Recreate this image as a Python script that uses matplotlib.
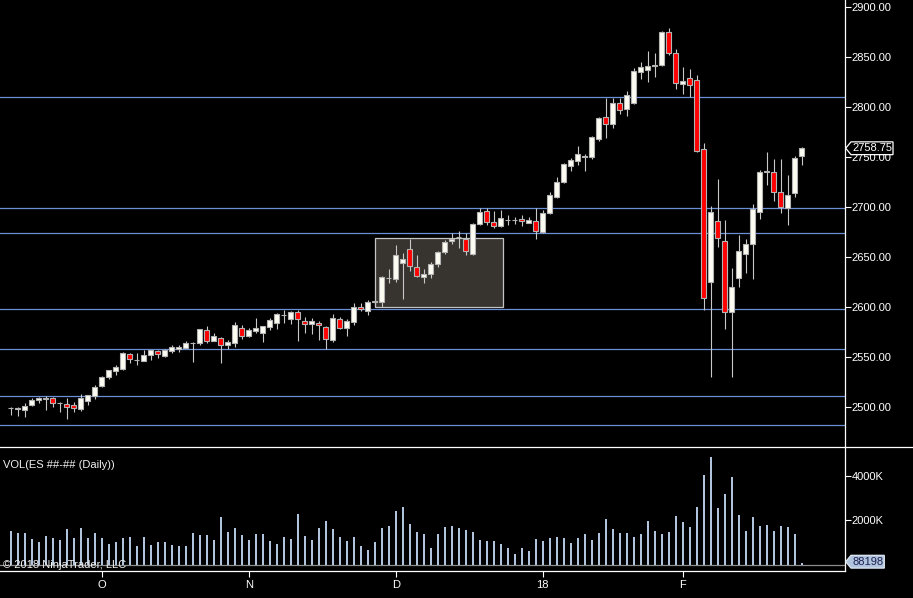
import numpy as np
import matplotlib
matplotlib.use("Agg")
import matplotlib.pyplot as plt
from matplotlib.patches import Rectangle, Polygon
from matplotlib.lines import Line2D

plt.rcParams['font.family'] = ['Liberation Sans', 'DejaVu Sans']

# daily ES bars
opens = [2499.25, 2498.5, 2497.25, 2502.25, 2506.75, 2508.5, 2508.75, 2504.25, 2502.75, 2502.0,
         2498.0, 2506.25, 2511.0, 2521.0, 2530.25, 2536.0, 2538.0, 2552.75, 2547.25, 2546.25,
         2552.25, 2555.75, 2551.25, 2555.75, 2558.25, 2559.25, 2564.0, 2564.25, 2576.75, 2565.75,
         2568.75, 2562.25, 2564.25, 2578.75, 2571.25, 2576.25, 2574.25, 2580.25, 2583.75, 2591.5,
         2587.75, 2594.75, 2585.75, 2583.25, 2583.75, 2580.25, 2567.25, 2587.75, 2579.25, 2585.25,
         2599.75, 2596.25, 2605.25, 2605.25, 2628.5, 2628.0, 2643.75, 2657.75, 2639.75, 2630.25,
         2633.25, 2642.75, 2655.25, 2666.25, 2669.5, 2668.25, 2653.25, 2683.0, 2695.75, 2685.25,
         2681.25, 2686.75, 2687.0, 2687.75, 2684.25, 2685.75, 2675.25, 2694.25, 2710.25, 2725.25,
         2741.25, 2746.25, 2750.25, 2750.25, 2768.25, 2789.75, 2782.75, 2803.75, 2797.75, 2804.25,
         2835.25, 2837.0, 2841.25, 2842.0, 2874.75, 2853.75, 2823.25, 2828.75, 2826.75, 2757.75,
         2624.75, 2685.75, 2665.75, 2594.75, 2628.75, 2653.0, 2662.75, 2695.25, 2735.25, 2734.75,
         2714.75, 2698.75, 2713.75, 2751.25]
highs = [2500.5, 2500.5, 2504.0, 2509.25, 2510.0, 2511.0, 2510.25, 2505.0, 2509.0, 2504.75,
         2512.75, 2511.75, 2521.75, 2531.25, 2536.75, 2542.0, 2554.75, 2554.0, 2554.0, 2557.25,
         2556.75, 2556.75, 2558.0, 2561.75, 2561.75, 2566.0, 2565.0, 2577.75, 2581.0, 2573.75,
         2570.25, 2567.0, 2584.75, 2582.25, 2578.75, 2589.25, 2581.25, 2589.25, 2594.25, 2597.0,
         2596.0, 2597.0, 2590.0, 2588.75, 2585.75, 2581.0, 2593.0, 2590.0, 2587.75, 2603.75,
         2603.75, 2607.0, 2607.0, 2631.0, 2638.0, 2662.0, 2653.75, 2668.0, 2652.0, 2637.75,
         2644.75, 2656.0, 2667.0, 2673.75, 2676.0, 2673.75, 2683.75, 2698.75, 2698.75, 2696.0,
         2697.0, 2692.0, 2690.25, 2692.0, 2690.25, 2698.75, 2697.0, 2714.75, 2729.75, 2743.75,
         2748.75, 2761.0, 2753.0, 2771.0, 2790.25, 2809.25, 2809.25, 2809.25, 2816.0, 2839.25,
         2845.0, 2856.0, 2854.25, 2876.0, 2878.75, 2857.75, 2840.0, 2838.0, 2832.0, 2763.75,
         2700.5, 2727.75, 2687.0, 2638.75, 2672.0, 2668.0, 2703.0, 2737.0, 2754.75, 2748.0,
         2748.0, 2732.0, 2751.0, 2759.75]
lows = [2492.0, 2491.5, 2490.25, 2501.0, 2504.25, 2497.25, 2500.25, 2495.25, 2488.25, 2495.25,
        2496.25, 2502.0, 2508.0, 2519.75, 2528.25, 2532.0, 2537.0, 2544.0, 2542.0, 2546.25,
        2547.25, 2549.25, 2550.25, 2554.25, 2555.0, 2559.25, 2545.0, 2562.0, 2564.25, 2565.75,
        2544.0, 2558.25, 2560.25, 2568.0, 2570.25, 2574.0, 2565.0, 2577.0, 2578.0, 2584.25,
        2583.0, 2566.0, 2573.75, 2573.0, 2567.0, 2558.0, 2565.0, 2578.25, 2571.25, 2582.0,
        2596.25, 2592.25, 2599.75, 2600.25, 2623.75, 2625.25, 2608.0, 2636.25, 2630.25, 2623.75,
        2629.25, 2640.25, 2652.75, 2663.0, 2659.25, 2652.0, 2652.0, 2682.0, 2682.0, 2679.25,
        2680.25, 2682.0, 2683.0, 2681.25, 2683.75, 2668.0, 2673.75, 2692.75, 2708.75, 2724.25,
        2736.25, 2742.0, 2736.25, 2747.75, 2766.25, 2769.25, 2779.25, 2793.0, 2791.0, 2802.75,
        2828.0, 2825.25, 2830.25, 2841.0, 2851.75, 2818.0, 2813.0, 2810.25, 2755.25, 2597.0,
        2529.75, 2660.25, 2577.75, 2530.25, 2620.25, 2634.25, 2627.75, 2688.0, 2722.0, 2706.0,
        2693.75, 2682.0, 2710.25, 2742.25]
closes = [2499.5, 2498.75, 2501.0, 2506.75, 2509.25, 2508.75, 2504.25, 2504.5, 2500.25, 2499.25,
          2508.75, 2511.75, 2520.0, 2530.0, 2536.75, 2539.75, 2554.0, 2548.25, 2547.5, 2551.75,
          2556.75, 2552.75, 2556.75, 2559.75, 2560.25, 2564.0, 2564.25, 2577.75, 2566.25, 2571.0,
          2561.75, 2565.0, 2582.0, 2571.25, 2576.75, 2578.75, 2580.75, 2586.75, 2593.0, 2591.75,
          2594.75, 2587.75, 2582.75, 2586.0, 2581.75, 2568.25, 2588.75, 2579.25, 2585.75, 2599.75,
          2597.75, 2604.75, 2605.5, 2629.75, 2628.75, 2651.75, 2647.75, 2641.25, 2631.25, 2632.75,
          2642.75, 2654.75, 2664.75, 2668.25, 2669.75, 2656.25, 2683.0, 2694.75, 2684.75, 2681.25,
          2688.75, 2687.0, 2687.25, 2685.75, 2687.0, 2676.25, 2694.0, 2712.0, 2724.75, 2742.75,
          2747.0, 2752.75, 2750.5, 2769.75, 2788.75, 2782.75, 2803.75, 2796.75, 2811.75, 2836.0,
          2840.0, 2841.0, 2841.5, 2874.75, 2853.75, 2824.25, 2826.0, 2822.25, 2756.25, 2608.75,
          2694.75, 2668.75, 2594.75, 2619.75, 2656.0, 2662.75, 2698.0, 2734.75, 2735.5, 2714.75,
          2699.5, 2712.0, 2748.75, 2758.75]
volumes = [1504000, 1414000, 1414000, 1143000, 1008000, 1278000, 1188000, 1098000, 1594000, 1188000,
           1639000, 1188000, 1414000, 1188000, 917000, 1008000, 1188000, 1233000, 827000, 1233000,
           872000, 1008000, 1008000, 872000, 827000, 827000, 1414000, 1324000, 1324000, 1098000,
           2136000, 1459000, 1639000, 1324000, 1098000, 1369000, 1369000, 1053000, 917000, 1233000,
           1143000, 2271000, 1278000, 1098000, 1639000, 1955000, 1594000, 1233000, 1053000, 1233000,
           827000, 647000, 1008000, 1639000, 1730000, 2406000, 2587000, 1820000, 1459000, 1369000,
           737000, 1369000, 1684000, 1730000, 1639000, 1549000, 1459000, 1098000, 1053000, 1053000,
           917000, 737000, 466000, 737000, 602000, 1143000, 1053000, 1188000, 1233000, 1188000,
           963000, 1188000, 1369000, 1098000, 1414000, 2045000, 1594000, 1414000, 1414000, 1233000,
           1369000, 1955000, 1504000, 1369000, 1459000, 2181000, 1910000, 1684000, 2587000, 4031000,
           4843000, 2542000, 3173000, 3940000, 2226000, 1504000, 2136000, 1730000, 1775000, 1504000,
           1730000, 1684000, 1369000, 88198]

month_ticks = [13, 34, 55, 76, 96]
month_labels = ['O', 'N', 'D', '18', 'F']
levels = [2809.75, 2698.75, 2673.75, 2597.75, 2557.75, 2510.75, 2482.0]
zone_bars = (52.05, 70.3)
zone_prices = (2600.25, 2668.75)

W, H = 913, 598
x = np.arange(len(closes))
o = np.array(opens); c = np.array(closes)
up = c >= o

fig = plt.figure(figsize=(W / 100, H / 100), dpi=100, facecolor='black')
ax1 = fig.add_axes([0, 1 - 446.7 / H, 844.5 / W, 446.7 / H], facecolor='black')
ax2 = fig.add_axes([0, 1 - 571 / H, 844.5 / W, (571 - 446.7) / H], facecolor='black')

xlim = (-10.7 / 7, (844.5 - 10.7) / 7)

# price panel
for lv in levels:
    ax1.axhline(lv, color='#6b8fd6', lw=0.9, zorder=1)
ax1.add_patch(Rectangle((zone_bars[0], zone_prices[0]), zone_bars[1] - zone_bars[0],
                        zone_prices[1] - zone_prices[0], facecolor='#37332e',
                        edgecolor='#c4c4c4', lw=0.9, zorder=2))
ax1.vlines(x, lows, highs, color='#c8c8c8', lw=0.8, zorder=3)
ax1.bar(x, np.abs(c - o), bottom=np.minimum(o, c), width=0.72,
        color=np.where(up, '#fcfcf2', '#ff0000'), edgecolor='#b4b4b4', lw=0.8, zorder=4)

ax1.set_xlim(*xlim)
ax1.set_ylim(2907 - 446.7, 2907)
ax1.set_xticks([])
ax1.yaxis.tick_right()
ax1.set_yticks(np.arange(2500, 2901, 50))
ax1.set_yticklabels(['%.2f' % v for v in np.arange(2500, 2901, 50)])
for s in ['top', 'left', 'bottom']:
    ax1.spines[s].set_visible(False)
ax1.spines['right'].set_color('white')
ax1.spines['right'].set_linewidth(0.9)

# volume panel
ax2.bar(x, volumes, width=0.3, color='#b0c4de', zorder=2)
ax2.axhline(0, color='#8c8c8c', lw=0.9, zorder=1)
ax2.set_xlim(*xlim)
ax2.set_ylim(-6.5 * 45110, (564.5 - 446.7) * 45110)
ax2.yaxis.tick_right()
ax2.set_yticks([2000000, 4000000])
ax2.set_yticklabels(['2000K', '4000K'])
ax2.set_xticks(month_ticks)
ax2.set_xticklabels(month_labels)
for s in ['top', 'left']:
    ax2.spines[s].set_visible(False)
for s in ['right', 'bottom']:
    ax2.spines[s].set_color('white')
    ax2.spines[s].set_linewidth(0.9)

for ax in (ax1, ax2):
    ax.tick_params(axis='y', direction='out', length=4.3, width=0.8, colors='white',
                   labelsize=8, pad=1)
ax2.tick_params(axis='x', direction='out', length=4.3, width=0.8, colors='white',
                labelsize=8, pad=2)

# separator across the whole width
fig.add_artist(Line2D([0, 1], [1 - 446.7 / H, 1 - 446.7 / H], transform=fig.transFigure,
                      color='white', lw=0.9))

fig.text(3 / W, 1 - 465.5 / H, 'VOL(ES ##-## (Daily))', color='#f0f0f0', fontsize=8,
         va='center', ha='left')
fig.text(3 / W, 1 - 565 / H, '\u00a9 2018 NinjaTrader, LLC', color='#f0f0f0', fontsize=8,
         va='center', ha='left', zorder=5)


def tag(ax, value, text, right_px, face, edge, tcolor):
    # arrow shaped value tag on the right axis
    py = H - ax.transData.transform((0, value))[1]
    half = 6.4
    pts = [(845.7, py), (851, py - half), (right_px, py - half), (right_px, py + half),
           (851, py + half)]
    pts = [(px / W, 1 - yy / H) for px, yy in pts]
    fig.add_artist(Polygon(pts, closed=True, transform=fig.transFigure, facecolor=face,
                           edgecolor=edge, lw=0.9))
    fig.text((852 + right_px) / 2 / W, 1 - py / H, text, color=tcolor, fontsize=8,
             ha='center', va='center')


tag(ax1, closes[-1], '%.2f' % closes[-1], 893, 'black', 'white', 'white')
tag(ax2, 126000, str(volumes[-1]), 884.3, '#b0c4de', '#dfe7f2', '#1e2050')

fig.savefig('out.png', dpi=100, facecolor='black')
